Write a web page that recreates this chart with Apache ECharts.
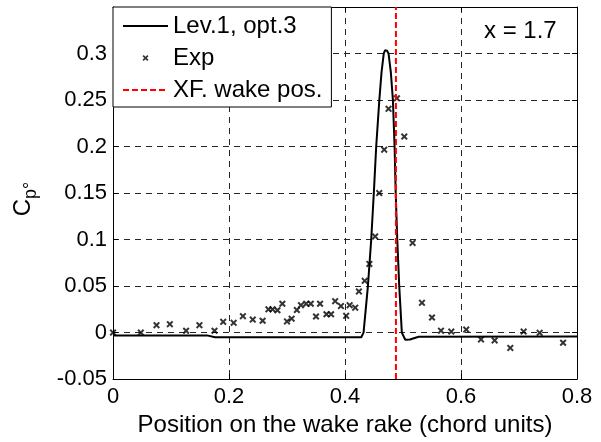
<!DOCTYPE html>
<html>
<head>
<meta charset="utf-8">
<script src="https://cdn.jsdelivr.net/npm/echarts@6/dist/echarts.min.js"></script>
<style>
html,body{margin:0;padding:0;background:#fff;}
#chart{width:601px;height:442px;}
</style>
</head>
<body>
<div id="chart"></div>
<script>
// ---- data ----
const seriesNames = ['Lev.1, opt.3', 'Exp', 'XF. wake pos.'];
const annotation = 'x = 1.7';
const xAxisTitle = 'Position on the wake rake (chord units)';

// computed Cp line (Lev.1, opt.3)
const lineX = [0, 0.162, 0.176, 0.428, 0.432, 0.4395, 0.4452, 0.4497, 0.4538, 0.4592, 0.4630, 0.4668, 0.4690, 0.4706, 0.4725, 0.4751, 0.4790, 0.4826, 0.4855, 0.4874, 0.4901, 0.4935, 0.4980, 0.5039, 0.5120, 0.5270, 0.8];
const lineY = [-0.003, -0.003, -0.005, -0.005, 0.0, 0.05, 0.10, 0.15, 0.20, 0.25, 0.28, 0.30, 0.3034, 0.3038, 0.3030, 0.30, 0.28, 0.25, 0.20, 0.15, 0.10, 0.05, 0.0, -0.0077, -0.0075, -0.0045, -0.0042];

// experimental points
const expX = [0, 0.048, 0.075, 0.098, 0.126, 0.149, 0.175, 0.190, 0.208, 0.224, 0.241, 0.258, 0.268, 0.275, 0.2835, 0.292, 0.300, 0.308, 0.317, 0.324, 0.333, 0.341, 0.350, 0.357, 0.368, 0.376, 0.383, 0.393, 0.402, 0.408, 0.4176, 0.424, 0.434, 0.442, 0.452, 0.459, 0.4676, 0.4751, 0.4895, 0.5022, 0.5165, 0.5327, 0.550, 0.5655, 0.5833, 0.609, 0.6345, 0.658, 0.685, 0.708, 0.7356, 0.776];
const expY = [0, 0, 0.008, 0.009, 0.002, 0.008, 0.002, 0.0116, 0.0105, 0.0176, 0.014, 0.0127, 0.025, 0.025, 0.024, 0.031, 0.012, 0.015, 0.0243, 0.0295, 0.031, 0.031, 0.0173, 0.031, 0.0197, 0.0197, 0.0338, 0.0285, 0.018, 0.0295, 0.0268, 0.0443, 0.0556, 0.0738, 0.1034, 0.150, 0.1966, 0.2405, 0.2518, 0.2107, 0.0964, 0.032, 0.0162, 0.0021, 0.0011, 0.0032, -0.0074, -0.0084, -0.0165, 0.0011, -0.0003, -0.0109];

// XFoil wake position
const xfPos = 0.4878;
const yRange = [-0.05, 0.35];
const xRange = [0, 0.8];

// ---- chart ----
const FONT = 'Liberation Sans, Arial, Helvetica, sans-serif';
const zip = (a, b) => a.map((v, i) => [v, b[i]]);
const xMark = 'path://M0,2L2,0L5,3L8,0L10,2L7,5L10,8L8,10L5,7L2,10L0,8L3,5Z';

const chart = echarts.init(document.getElementById('chart'), null, {renderer: 'canvas'});
const gridDash = {type: [6, 5], color: '#262626', width: 1};
const axisBlack = {show: true, onZero: false, lineStyle: {color: '#000', width: 1}};
const tickIn = {show: true, inside: true, length: 5, lineStyle: {color: '#000', width: 1}};

chart.setOption({
  animation: false,
  backgroundColor: '#fff',
  textStyle: {fontFamily: FONT},
  grid: {left: 113, right: 24, top: 7, bottom: 56},
  title: {
    text: annotation, left: 484, top: 19, padding: 0,
    textStyle: {fontFamily: FONT, fontSize: 24, fontWeight: 'normal', color: '#000'}
  },
  legend: {
    orient: 'vertical', left: 113, top: 7,
    padding: [7, 9, 5, 9], itemGap: 8,
    itemWidth: 45, itemHeight: 6,
    backgroundColor: '#fff', borderColor: '#000', borderWidth: 1, borderRadius: 0,
    textStyle: {fontFamily: FONT, fontSize: 24, color: '#000', lineHeight: 24},
    data: [
      {name: seriesNames[0], itemStyle: {opacity: 0}},
      {name: seriesNames[1]},
      {name: seriesNames[2], itemStyle: {opacity: 0}}
    ]
  },
  xAxis: [{
    type: 'value', min: xRange[0], max: xRange[1], interval: 0.2, position: 'bottom',
    axisLine: axisBlack, axisTick: tickIn,
    axisLabel: {margin: 7, fontSize: 22, color: '#000', fontFamily: FONT,
      formatter: v => String(Math.round(v * 10) / 10)},
    splitLine: {show: true, lineStyle: gridDash},
    name: xAxisTitle, nameLocation: 'middle', nameGap: 31,
    nameTextStyle: {fontFamily: FONT, fontSize: 24, color: '#000'}
  }, {
    type: 'value', min: xRange[0], max: xRange[1], interval: 0.2, position: 'top',
    axisLine: axisBlack, axisTick: tickIn, axisLabel: {show: false}, splitLine: {show: false}
  }],
  yAxis: [{
    type: 'value', min: yRange[0], max: yRange[1], interval: 0.05, position: 'left',
    axisLine: axisBlack, axisTick: tickIn,
    axisLabel: {margin: 6, fontSize: 22, color: '#000', fontFamily: FONT,
      formatter: v => Math.abs(v - 0.35) < 1e-6 ? '' : String(Math.round(v * 100) / 100)},
    splitLine: {show: true, lineStyle: gridDash},
    name: '{c|C}{s|p°}', nameLocation: 'middle', nameGap: 73, nameRotate: 90,
    nameTextStyle: {
      fontFamily: FONT, color: '#000',
      rich: {
        c: {fontFamily: FONT, fontSize: 24, lineHeight: 34, color: '#000', verticalAlign: 'middle'},
        s: {fontFamily: FONT, fontSize: 18, lineHeight: 18, color: '#000', verticalAlign: 'bottom', padding: [0, 12, 0, 0]}
      }
    }
  }, {
    type: 'value', min: yRange[0], max: yRange[1], interval: 0.05, position: 'right',
    axisLine: axisBlack, axisTick: tickIn, axisLabel: {show: false}, splitLine: {show: false}
  }],
  series: [{
    name: seriesNames[0], type: 'line', data: zip(lineX, lineY),
    symbol: 'none', smooth: false,
    lineStyle: {color: '#000', width: 2}, itemStyle: {color: '#000'}, z: 3
  }, {
    name: seriesNames[1], type: 'scatter', data: zip(expX, expY),
    symbol: xMark, symbolSize: 7, symbolKeepAspect: true,
    itemStyle: {color: '#000'}, z: 4
  }, {
    name: seriesNames[2], type: 'line', data: [[xfPos, yRange[0]], [xfPos, yRange[1]]],
    symbol: 'none',
    lineStyle: {color: '#ff0000', width: 2, type: [6, 3]}, itemStyle: {color: '#ff0000'}, z: 5
  }]
});
</script>
</body>
</html>
